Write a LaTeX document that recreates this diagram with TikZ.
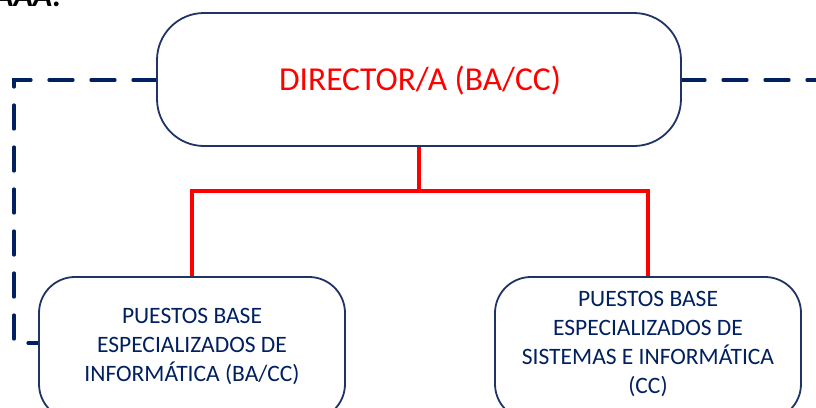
\documentclass[tikz,border=0pt]{standalone}
\usepackage{fontspec}
\setmainfont{Carlito}
\definecolor{navy}{RGB}{0,32,96}
\definecolor{boxline}{RGB}{31,52,100}
\definecolor{vred}{RGB}{255,0,0}
\begin{document}
\begin{tikzpicture}[x=1pt,y=-1pt,
  bigbox/.style={draw=boxline, line width=1.8pt, rounded corners=47pt, minimum width=524pt, minimum height=133pt, inner sep=0pt, fill=white},
  subbox/.style={draw=boxline, line width=1.8pt, rounded corners=36pt, minimum width=306pt, minimum height=143pt, inner sep=0pt, fill=white},
  subtext/.style={text=navy, font=\fontsize{23.5pt}{29pt}\selectfont, align=center},
  redline/.style={draw=vred, line width=3.2pt},
  dashline/.style={draw=navy, line width=3.2pt, dash pattern=on 24pt off 18pt, line cap=round}]
\useasboundingbox (0,0) rectangle (816,407);
\clip (0,0) rectangle (816,407);
% partially visible title at top left
\node[anchor=base west, inner sep=0pt, font=\fontsize{32pt}{36pt}\selectfont\bfseries\itshape] (title) at (-6,6) {AAA:};
% connector coordinates
\coordinate (jy) at (0,191);
\coordinate (cl) at (14,343);
\coordinate (cr) at (840,343);
\coordinate (topw) at (157,80);
\coordinate (tope) at (681,80);
% dashed links drawn first so boxes overlap their ends
\draw[dashline] (topw) -| (cl) -- (39,343);
\draw[dashline] (tope) -| (cr) -- (803,343);
% boxes
\node[bigbox] (top) at (419,79.5) {};
\node[text=vred, font=\fontsize{33.5pt}{40pt}\selectfont] (toptext) at (420,81) {DIRECTOR/A (BA/CC)};
\node[subbox] (lb) at (192,348.5) {};
\node[subtext] (lbt) at (192,346) {PUESTOS BASE\\ESPECIALIZADOS DE\\INFORMÁTICA (BA/CC)};
\node[subbox] (rb) at (648,348.5) {};
\node[subtext] (rbt) at (648,344) {PUESTOS BASE\\ESPECIALIZADOS DE\\SISTEMAS E INFORMÁTICA\\(CC)};
% red tree
\draw[redline] (top.south) -- (top.south |- jy) -| (lb.north);
\draw[redline] (top.south |- jy) -| (rb.north);
\end{tikzpicture}
\end{document}
